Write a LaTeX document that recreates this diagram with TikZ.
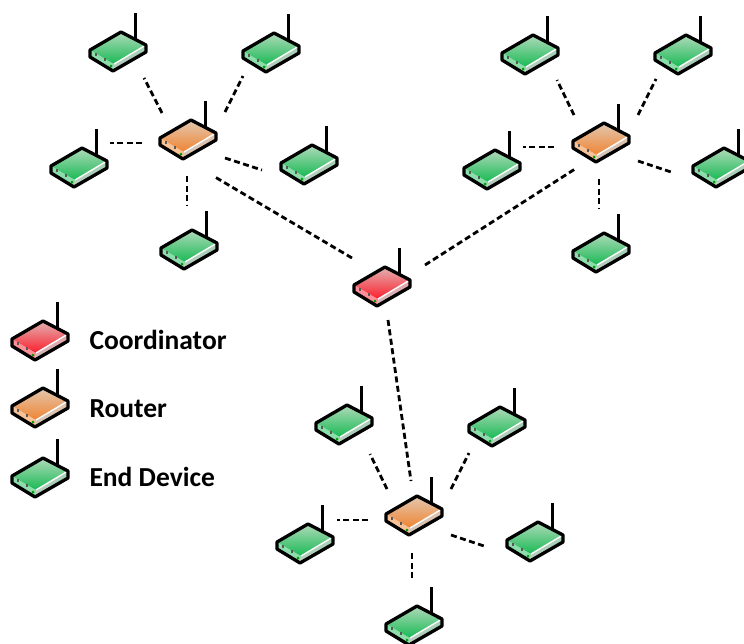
\documentclass[tikz,border=0pt]{standalone}
\usepackage{fontspec}
\setmainfont{Carlito}
\definecolor{coord}{RGB}{252,30,45}
\definecolor{coordtop}{RGB}{226,178,178}
\definecolor{router}{RGB}{240,132,50}
\definecolor{routertop}{RGB}{226,200,176}
\definecolor{enddev}{RGB}{24,186,84}
\definecolor{enddevtop}{RGB}{176,218,186}
\tikzset{
	devnode/.style={inner sep=0pt,minimum size=1pt},
	link/.style={line width=2.8pt,dash pattern=on 6pt off 3.5pt},
	legendtext/.style={anchor=base west,font=\fontsize{27.5}{32}\selectfont\bfseries},
	pics/device/.style={code={
		\draw[line width=3pt] (17,-7)--(17,-33);
		\fill[#1!50!white] (-28,4)--(-4,18)--(-5,25)--(-28,11)--cycle;
		\shade[top color=#1!60!gray!50!white,bottom color=#1!20!gray!45!white] (-4,18)--(28,-1)--(28,6)--(-5,25)--cycle;
		\shade[top color=#1top,bottom color=#1] (3,-14)--(28,-1)--(-4,18)--(-28,4)--cycle;
		\draw[white,line width=1.4pt] (-4,18)--(28,-1);
		\fill[black!65] (-23,7) rectangle (-21,10);
		\fill[black!65] (-14,12) rectangle (-12,15);
		\fill[green!60!black] (-7,20) circle [radius=1.5];
		\draw[line width=3.3pt,line join=round] (3,-14)--(28,-1)--(28,6)--(-5,25)--(-28,11)--(-28,4)--cycle;
	}}
}
\begin{document}
\begin{tikzpicture}[x=1pt,y=-1pt]
	\useasboundingbox (0,0) rectangle (744,643);
	% devices
	\foreach \name/\x/\y/\kind in {
		co/382/281/coord,
		ra/188/134/router, rb/601/137/router, rc/414/510/router,
		aa/118/46/enddev, ab/271/47/enddev, ac/79/162/enddev, ad/309/159/enddev, ae/189/244/enddev,
		ba/530/49/enddev, bb/683/49/enddev, bc/492/164/enddev, bd/721/162/enddev, be/601/247/enddev,
		ca/344/419/enddev, cb/497/421/enddev, cc/305/538/enddev, cd/535/536/enddev, ce/414/620/enddev,
		lco/40/335/coord, lro/40/402/router, len/40/472/enddev}{
		\node[devnode] (\name) at (\x,\y) {};
		\pic at (\name) {device=\kind};
	}
	% links
	\foreach \from/\fx/\fy/\to/\tx/\ty in {
		ra/-26/-21/aa/26/32, ra/37/-22/ab/-28/29, ra/-46/9/ac/31/-19, ra/37/24/ad/-47/11, ra/-1/42/ae/-2/-39,
		rb/-27/-22/ba/27/31, rb/37/-22/bb/-27/30, rb/-47/10/bc/31/-17, rb/37/24/bd/-47/11, rb/-2/42/be/-2/-39,
		rc/-27/-21/ca/26/35, rc/37/-21/cb/-28/32, rc/-46/10/cc/32/-18, rc/37/25/cd/-48/11, rc/-2/43/ce/-2/-39,
		co/-30/-23/ra/27/43, co/43/-16/rb/-26/32, co/6/39/rc/-3/-29}{
		\draw[link] ([shift={(\fx,\fy)}]\from.center)--([shift={(\tx,\ty)}]\to.center);
	}
	% legend
	\node[legendtext] (tco) at (86,349) {Coordinator};
	\node[legendtext] (tro) at (86,417) {Router};
	\node[legendtext] (ten) at (86,486) {End Device};
\end{tikzpicture}
\end{document}
